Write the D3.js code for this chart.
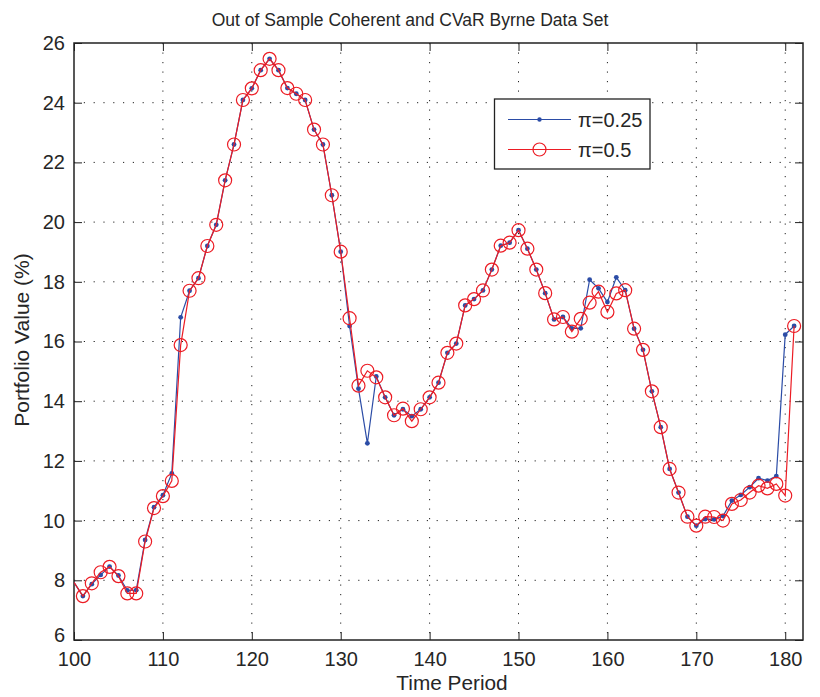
<!DOCTYPE html>
<html>
<head>
<meta charset="utf-8">
<script src="https://cdn.jsdelivr.net/npm/d3@7"></script>
<style>
  body { margin: 0; background: #fff; }
  svg { display: block; font-family: "Liberation Sans", Arial, sans-serif; }
</style>
</head>
<body>
<svg id="chart" width="820" height="697"></svg>
<script>
const periods = d3.range(100, 182);
const seriesBlue = [7.93,
  7.47, 7.87, 8.18, 8.46, 8.16, 7.66, 7.67, 9.35, 10.45, 10.85,
  11.58, 16.81, 17.70, 18.12, 19.20, 19.91, 21.40, 22.60, 24.09, 24.48,
  25.09, 25.47, 25.09, 24.49, 24.30, 24.09, 23.10, 22.60, 20.90, 19.01,
  16.52, 14.42, 12.59, 14.83, 14.13, 13.53, 13.73, 13.50, 13.73, 14.13,
  14.62, 15.62, 15.93, 17.21, 17.42, 17.71, 18.41, 19.21, 19.31, 19.73,
  19.11, 18.41, 17.62, 16.74, 16.82, 16.44, 16.44, 18.07, 17.78, 17.32,
  18.15, 17.72, 16.43, 15.72, 14.33, 13.13, 11.73, 10.94, 10.13, 9.83,
  10.05, 10.04, 10.15, 10.67, 10.86, 11.12, 11.42, 11.34, 11.49, 16.23,
  16.52];
const seriesRed = [7.93,
  7.47, 7.90, 8.27, 8.45, 8.14, 7.56, 7.56, 9.30, 10.42, 10.82,
  11.33, 15.88, 17.70, 18.12, 19.20, 19.91, 21.40, 22.60, 24.09, 24.48,
  25.09, 25.47, 25.09, 24.49, 24.30, 24.09, 23.10, 22.60, 20.90, 19.01,
  16.78, 14.52, 15.02, 14.80, 14.13, 13.53, 13.75, 13.33, 13.73, 14.13,
  14.62, 15.62, 15.93, 17.21, 17.42, 17.71, 18.41, 19.21, 19.31, 19.73,
  19.11, 18.41, 17.62, 16.74, 16.82, 16.33, 16.76, 17.30, 17.67, 16.99,
  17.61, 17.72, 16.43, 15.72, 14.33, 13.13, 11.73, 10.94, 10.13, 9.83,
  10.13, 10.12, 10.00, 10.56, 10.69, 10.94, 11.17, 11.08, 11.23, 10.84,
  16.52];
const xTicks = [100, 110, 120, 130, 140, 150, 160, 170, 180];
const yTicks = [6, 8, 10, 12, 14, 16, 18, 20, 22, 24, 26];
const legendLabels = ["\u03c0=0.25", "\u03c0=0.5"];
const titleText = "Out of Sample Coherent and CVaR Byrne Data Set";
const xLabel = "Time Period";
const yLabel = "Portfolio Value (%)";

const pL = 74, pR = 803, pT = 43, pB = 640;
const x = d3.scaleLinear().domain([100, 182]).range([pL, pR]);
const y = d3.scaleLinear().domain([6, 26]).range([pB, pT]);

const blueColor = "#2b4ca6";
const redColor = "#ec1c24";
const textColor = "#262626";

const svg = d3.select("#chart");

svg.append("defs").append("clipPath").attr("id", "plotclip")
  .append("rect").attr("x", pL).attr("y", pT)
  .attr("width", pR - pL).attr("height", pB - pT);

// grid
const grid = svg.append("g");
grid.selectAll(".vg").data(xTicks.filter(t => t > 100)).join("line")
  .attr("x1", d => x(d)).attr("x2", d => x(d))
  .attr("y1", pT).attr("y2", pB)
  .attr("stroke", "#222").attr("stroke-width", 1)
  .attr("stroke-dasharray", "1.2,8.3");
grid.selectAll(".hg").data(yTicks.filter(t => t > 6 && t < 26)).join("line")
  .attr("y1", d => y(d)).attr("y2", d => y(d))
  .attr("x1", pL).attr("x2", pR)
  .attr("stroke", "#222").attr("stroke-width", 1)
  .attr("stroke-dasharray", "1.2,8.6");

// axes
const xAxisB = d3.axisBottom(x).tickValues(xTicks).tickSizeInner(-8).tickSizeOuter(0).tickPadding(12);
const xAxisT = d3.axisTop(x).tickValues(xTicks).tickSizeInner(-8).tickSizeOuter(0).tickFormat("");
const yAxisL = d3.axisLeft(y).tickValues(yTicks).tickSizeInner(-8).tickSizeOuter(0).tickPadding(9);
const yAxisR = d3.axisRight(y).tickValues(yTicks).tickSizeInner(-8).tickSizeOuter(0).tickFormat("");

function styleAxis(g) {
  g.select(".domain").remove();
  g.selectAll("line").attr("stroke", "#222").attr("stroke-width", 1);
  g.selectAll("text").attr("fill", textColor).style("font-size", "20px")
    .style("font-family", "'Liberation Sans', Arial, sans-serif");
}
svg.append("g").attr("transform", `translate(0,${pB})`).call(xAxisB).call(styleAxis);
svg.append("g").attr("transform", `translate(0,${pT})`).call(xAxisT).call(styleAxis);
svg.append("g").attr("transform", `translate(${pL},0)`).call(yAxisL).call(styleAxis)
  .selectAll(".tick text").filter(d => d === 6).attr("dy", "0.05em");
svg.append("g").attr("transform", `translate(${pR},0)`).call(yAxisR).call(styleAxis);

svg.append("rect").attr("x", pL).attr("y", pT)
  .attr("width", pR - pL).attr("height", pB - pT)
  .attr("fill", "none").attr("stroke", "#222").attr("stroke-width", 1.5);

// data
const plot = svg.append("g").attr("clip-path", "url(#plotclip)");
const line = d3.line().x((d, i) => x(periods[i])).y(d => y(d));

plot.append("path").datum(seriesBlue).attr("d", line)
  .attr("fill", "none").attr("stroke", blueColor).attr("stroke-width", 1.2);
plot.selectAll(".bdot").data(seriesBlue.map((v, i) => [periods[i], v]).filter(d => d[0] > 100))
  .join("circle").attr("cx", d => x(d[0])).attr("cy", d => y(d[1])).attr("r", 2.4)
  .attr("fill", blueColor);

plot.append("path").datum(seriesRed).attr("d", line)
  .attr("fill", "none").attr("stroke", redColor).attr("stroke-width", 1.2);
plot.selectAll(".rc").data(seriesRed.map((v, i) => [periods[i], v]).filter(d => d[0] > 100))
  .join("circle").attr("cx", d => x(d[0])).attr("cy", d => y(d[1])).attr("r", 6.5)
  .attr("fill", "none").attr("stroke", redColor).attr("stroke-width", 1.2);

// title and labels
svg.append("text").attr("x", 410).attr("y", 26)
  .attr("text-anchor", "middle").attr("fill", textColor)
  .style("font-size", "17.5px").text(titleText);
svg.append("text").attr("x", 452).attr("y", 690)
  .attr("text-anchor", "middle").attr("fill", textColor)
  .style("font-size", "20.8px").text(xLabel);
svg.append("text").attr("transform", `translate(29,340) rotate(-90)`)
  .attr("text-anchor", "middle").attr("fill", textColor)
  .style("font-size", "21px").text(yLabel);

// legend
const lg = svg.append("g");
lg.append("rect").attr("x", 494.5).attr("y", 99).attr("width", 155.5).attr("height", 70)
  .attr("fill", "#fff").attr("stroke", "#222").attr("stroke-width", 1.3);
const legY = [119.5, 149.5];
lg.append("line").attr("x1", 508).attr("x2", 571).attr("y1", legY[0]).attr("y2", legY[0])
  .attr("stroke", blueColor).attr("stroke-width", 1.2);
lg.append("circle").attr("cx", 539.5).attr("cy", legY[0]).attr("r", 2.2).attr("fill", blueColor);
lg.append("line").attr("x1", 508).attr("x2", 571).attr("y1", legY[1]).attr("y2", legY[1])
  .attr("stroke", redColor).attr("stroke-width", 1.2);
lg.append("circle").attr("cx", 539.5).attr("cy", legY[1]).attr("r", 6.5)
  .attr("fill", "none").attr("stroke", redColor).attr("stroke-width", 1.2);
lg.selectAll(".lt").data(legendLabels).join("text")
  .attr("x", 578).attr("y", (d, i) => legY[i] + 7)
  .attr("fill", textColor).style("font-size", "20px").text(d => d);
</script>
</body>
</html>
